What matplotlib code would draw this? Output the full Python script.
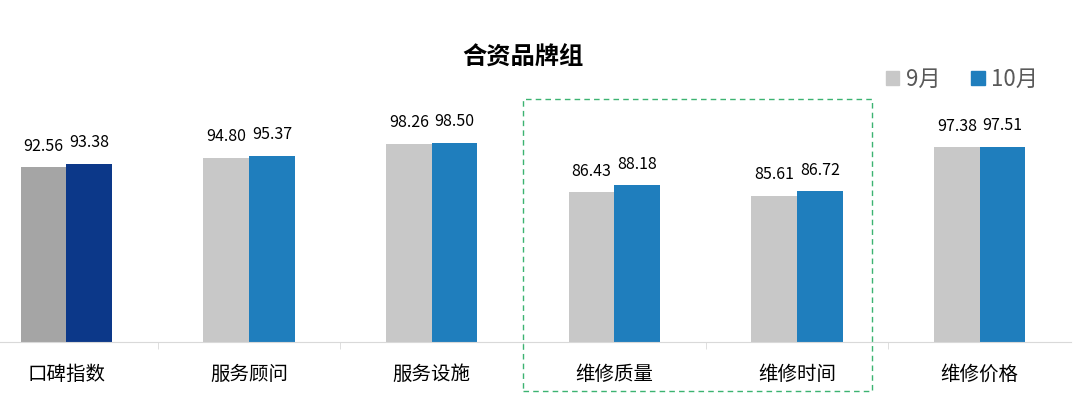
import matplotlib.pyplot as plt
import numpy as np
from matplotlib.patches import Rectangle

plt.rcParams['font.family'] = ['Noto Sans CJK SC', 'DejaVu Sans']

# 合资品牌组 各指标得分
categories = ["口碑指数", "服务顾问", "服务设施", "维修质量", "维修时间", "维修价格"]
sep = [92.56, 94.80, 98.26, 86.43, 85.61, 97.38]
octo = [93.38, 95.37, 98.50, 88.18, 86.72, 97.51]
series_names = ["9月", "10月"]

c_sep = ["#A5A5A5"] + ["#C8C8C8"] * 5
c_oct = ["#0C3889"] + ["#1F7EBD"] * 5

fig = plt.figure(figsize=(10.74, 4.2), dpi=100)
W, H = 1074, 420
ax = fig.add_axes([-25 / W, 78 / H, 1096 / W, 242 / H])

x = np.arange(len(categories))
w = 0.25
b1 = ax.bar(x - w / 2, sep, w, color=c_sep, label=series_names[0])
b2 = ax.bar(x + w / 2, octo, w, color=c_oct, label=series_names[1])

for bars, vals in ((b1, sep), (b2, octo)):
    for b, v in zip(bars, vals):
        ax.annotate(f"{v:.2f}", (b.get_x() + b.get_width() / 2, v),
                    xytext=(0, 9), textcoords="offset points",
                    ha="center", va="bottom", fontsize=11.5, color="#000000")

ax.set_xlim(-0.5, len(categories) - 0.5)
ax.set_ylim(50, 50 + 242 / 4.11)
ax.set_yticks([])
for s in ("left", "right", "top"):
    ax.spines[s].set_visible(False)
ax.spines["bottom"].set_color("#D9D9D9")
ax.set_xticks(x)
ax.set_xticklabels(categories, fontsize=14)
ax.tick_params(axis="x", which="major", length=0, pad=16)
ax.set_xticks(np.arange(0.5, len(categories) - 0.5), minor=True)
ax.tick_params(axis="x", which="minor", length=5, color="#D9D9D9")

fig.text(523 / W, 1 - 58 / H, "合资品牌组", ha="center", va="center",
         fontsize=17.5, fontweight="bold")

h1 = Rectangle((0, 0), 1, 1, color="#C8C8C8")
h2 = Rectangle((0, 0), 1, 1, color="#1F7EBD")
leg = fig.legend([h1, h2], series_names, loc="center", bbox_to_anchor=(962 / W, 1 - 79 / H),
                 ncol=2, frameon=False, fontsize=16, handlelength=0.6, handleheight=0.6,
                 handletextpad=0.3, columnspacing=1.4)
for t in leg.get_texts():
    t.set_color("#595959")

box = Rectangle((523 / W, 1 - 391 / H), (872 - 523) / W, (391 - 99) / H,
                transform=fig.transFigure, fill=False, edgecolor="#3CB371",
                linestyle=(0, (4, 3)), linewidth=1)
fig.patches.append(box)

fig.savefig("out.png", dpi=100)
